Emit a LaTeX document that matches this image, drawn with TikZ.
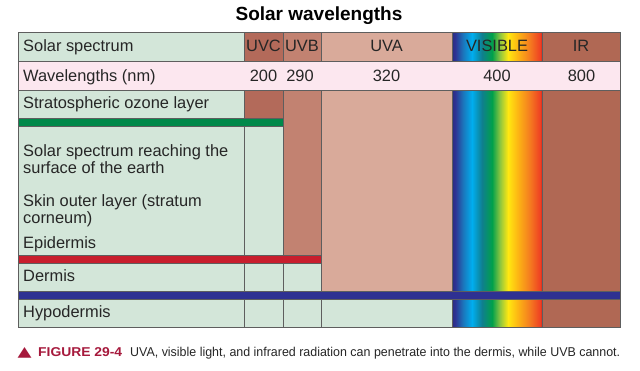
\documentclass[tikz,border=0pt]{standalone}
\usepackage{fontspec}
\setmainfont{Liberation Sans}
\newfontfamily\dejavu{DejaVu Sans}
\usepackage{graphicx}
\definecolor{lgreen}{HTML}{D3E6D9}
\definecolor{lpink}{HTML}{FCE7EF}
\definecolor{uvc}{HTML}{B36A5A}
\definecolor{uvb}{HTML}{C28271}
\definecolor{uva}{HTML}{D9AA9A}
\definecolor{irc}{HTML}{B06854}
\definecolor{gbar}{HTML}{00894A}
\definecolor{rbar}{HTML}{C81E2D}
\definecolor{bbar}{HTML}{2E3192}
\definecolor{linec}{HTML}{5E5E5E}
\definecolor{txt}{HTML}{262626}
\definecolor{figred}{HTML}{A6193C}
\definecolor{rb0}{HTML}{2A2D80}
\definecolor{rb1}{HTML}{2E3192}
\definecolor{rb2}{HTML}{1B75BB}
\definecolor{rb3}{HTML}{00AEEF}
\definecolor{rb4}{HTML}{0F7F8F}
\definecolor{rb5}{HTML}{00A04B}
\definecolor{rb6}{HTML}{8DC63F}
\definecolor{rb7}{HTML}{FFE811}
\definecolor{rb8}{HTML}{FDB913}
\definecolor{rb9}{HTML}{F47A20}
\definecolor{rb10}{HTML}{EF4123}
\definecolor{rb11}{HTML}{D7261E}
\newcommand{\rainbowcol}[2]{%
  \foreach \xa/\ca/\xb/\cb in {452/rb0/455/rb1, 455/rb1/463/rb2, 463/rb2/472/rb3, 472/rb3/482/rb4, 482/rb4/492/rb5, 492/rb5/500/rb6, 500/rb6/508/rb7, 508/rb7/517/rb8, 517/rb8/530/rb9, 530/rb9/540/rb10, 540/rb10/542/rb11}{%
    \pgfmathtruncatemacro{\nn}{\xb-\xa-1}%
    \foreach \j in {0,...,\nn}{%
      \pgfmathtruncatemacro{\pp}{100*\j/(\xb-\xa)}%
      \fill[\cb!\pp!\ca] ({\xa+\j},#1) rectangle ({\xa+\j+1.15},#2);}}%
  \draw[cell] (452,#1) rectangle (542,#2);}
\begin{document}
\begin{tikzpicture}[x=1pt,y=-1pt,
  cell/.style={draw=linec, line width=0.7pt},
  barstyle/.style={draw=linec, line width=0.4pt},
  lbl/.style={anchor=base west, inner sep=0pt, text=txt, align=left,
    font=\fontsize{16.4}{17}\selectfont},
  hdr/.style={anchor=base, inner sep=0pt, text=txt,
    font=\fontsize{16.4}{17}\selectfont}]
\useasboundingbox[fill=white] (0,0) rectangle (640,371);
% title
\node[anchor=base, inner sep=0pt, text=black, font=\fontsize{19}{21}\selectfont\bfseries] (title) at (319,20.5) {Solar wavelengths};
% header row
\draw[cell, fill=lgreen] (18,32) rectangle (244,61);
\draw[cell, fill=uvc] (244,32) rectangle (283,61);
\draw[cell, fill=uvb] (283,32) rectangle (321,61);
\draw[cell, fill=uva] (321,32) rectangle (452,61);
\rainbowcol{32}{61}
\draw[cell, fill=irc] (542,32) rectangle (620,61);
% wavelength row
\draw[cell, fill=lpink] (18,61) rectangle (620,90);
% label column
\draw[cell, fill=lgreen] (18,90) rectangle (244,118);
\draw[cell, fill=lgreen] (18,126) rectangle (244,255);
\draw[cell, fill=lgreen] (18,263) rectangle (244,291);
\draw[cell, fill=lgreen] (18,299) rectangle (244,327);
% UVC column
\draw[cell, fill=uvc] (244,90) rectangle (283,118);
\draw[cell, fill=lgreen] (244,126) rectangle (283,255);
\draw[cell, fill=lgreen] (244,263) rectangle (283,291);
\draw[cell, fill=lgreen] (244,299) rectangle (283,327);
% UVB column
\draw[cell, fill=uvb] (283,90) rectangle (321,255);
\draw[cell, fill=lgreen] (283,263) rectangle (321,291);
\draw[cell, fill=lgreen] (283,299) rectangle (321,327);
% UVA column
\draw[cell, fill=uva] (321,90) rectangle (452,291);
\draw[cell, fill=lgreen] (321,299) rectangle (452,327);
% visible column
\rainbowcol{90}{327}
% IR column
\draw[cell, fill=irc] (542,90) rectangle (620,327);
% bars
\draw[barstyle, fill=gbar] (18,118) rectangle (283,126);
\draw[barstyle, fill=rbar] (18,255) rectangle (321,263);
\draw[barstyle, fill=bbar] (18,291) rectangle (620,299);
% header texts
\node[lbl] (ss) at (23,52) {Solar spectrum};
\node[hdr] (huvc) at (263.5,52) {UVC};
\node[hdr] (huvb) at (302,52) {UVB};
\node[hdr] (huva) at (386.5,52) {UVA};
\node[hdr] (hvis) at (497,52) {VISIBLE};
\node[hdr] (hir) at (581,52) {IR};
% wavelengths
\node[lbl] (wl) at (23,82) {Wavelengths (nm)};
\node[hdr] (w200) at (263.5,82) {200};
\node[hdr] (w290) at (300,82) {290};
\node[hdr] (w320) at (386.5,82) {320};
\node[hdr] (w400) at (497,82) {400};
\node[hdr] (w800) at (581.5,82) {800};
% row labels (base = last line)
\node[lbl] (ozone) at (23,109) {Stratospheric ozone layer};
\node[lbl] (surf) at (23,174) {Solar spectrum reaching the\\surface of the earth};
\node[lbl] (skin) at (23,224) {Skin outer layer (stratum\\corneum)};
\node[lbl] (epi) at (23,249) {Epidermis};
\node[lbl] (derm) at (23,282) {Dermis};
\node[lbl] (hypo) at (23,318) {Hypodermis};
% caption
\node[anchor=base west, inner sep=0pt, text=figred, font=\dejavu\fontsize{14}{14}\selectfont] (tri) at (17.5,356) {\scalebox{1.3}[1]{▲}};
\node[anchor=base west, inner sep=0pt, text=txt, font=\fontsize{12.8}{13}\selectfont] (cap) at (38,356)
  {\resizebox{84pt}{\height}{\textcolor{figred}{\bfseries FIGURE 29-4}}\hspace{8pt}\resizebox{490pt}{\height}{UVA, visible light, and infrared radiation can penetrate into the dermis, while UVB cannot.}};
\end{tikzpicture}
\end{document}
